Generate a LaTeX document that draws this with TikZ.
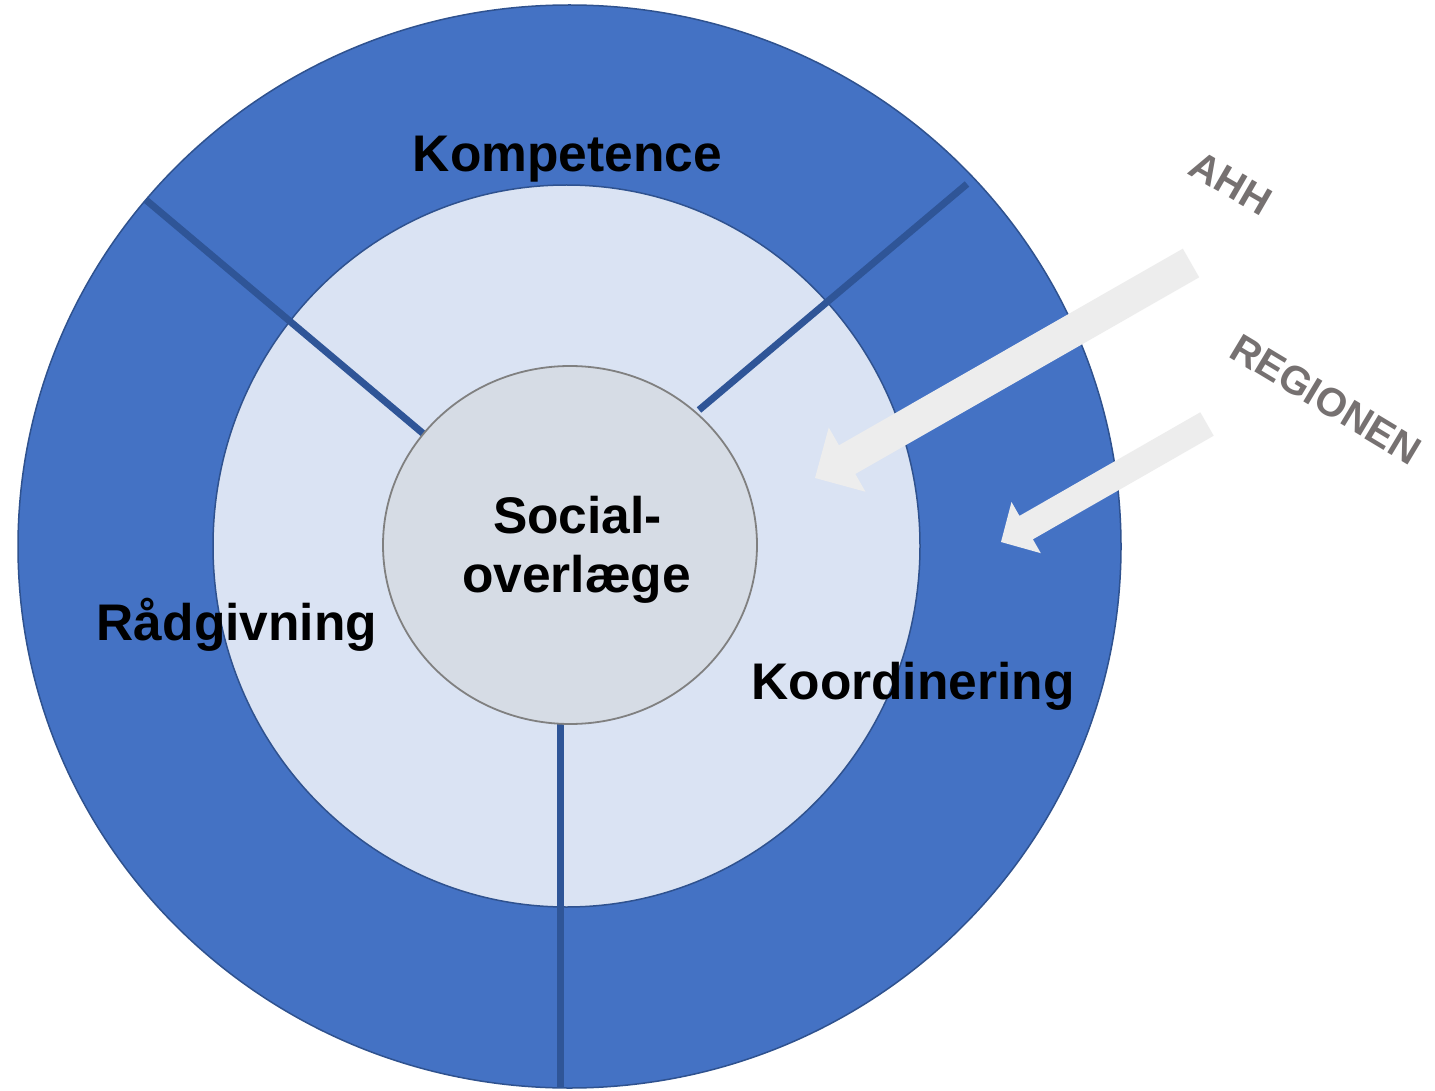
\documentclass[tikz,border=0pt]{standalone}
\usepackage{fontspec}
\setmainfont{Liberation Sans}
\usetikzlibrary{calc}
\definecolor{ringblue}{HTML}{4472C4}
\definecolor{ringedge}{HTML}{2F528F}
\definecolor{midfill}{HTML}{DAE3F3}
\definecolor{corefill}{HTML}{D6DCE5}
\definecolor{coreedge}{HTML}{808080}
\definecolor{spoke}{HTML}{2F5597}
\definecolor{arrowfill}{HTML}{EDEDED}
\definecolor{labelgrey}{HTML}{767171}
\begin{document}
\begin{tikzpicture}[x=1pt,y=-1pt,
  bigtext/.style={font=\fontsize{51.5}{58}\selectfont\bfseries, text=black, inner sep=0pt, anchor=base},
  sidetext/.style={font=\fontsize{40}{46}\selectfont\bfseries, text=labelgrey, inner sep=0pt, anchor=base},
  spokeline/.style={draw=spoke, line width=7pt},
  blockarrow/.style={fill=arrowfill, draw=none}]
\useasboundingbox (0,0) rectangle (1435,1091);
\fill[white] (0,0) rectangle (1435,1091);
% rings
\draw[ringedge, line width=1.5pt, fill=ringblue] (569.5,546.5) ellipse [x radius=551.5, y radius=541.5];
\draw[ringedge, line width=1.5pt, fill=midfill] (566.5,546) ellipse [x radius=353.5, y radius=361];
% spokes
\coordinate (s1a) at (146,200);
\coordinate (s1b) at (432,441);
\coordinate (s2a) at (967,184);
\coordinate (s2b) at (699,410);
\coordinate (s3a) at (560,724);
\coordinate (s3b) at (560,1088);
\draw[spokeline] (s1a) -- (s1b);
\draw[spokeline] (s2a) -- (s2b);
\draw[spokeline] (s3a) -- (s3b);
% core
\draw[coreedge, line width=1.8pt, fill=corefill] (570,545) ellipse [x radius=187, y radius=179];
% arrows
\coordinate (t1) at (1191,263);
\coordinate (p1) at (815,478);
\coordinate (b1) at ($(p1)!37pt!(t1)$);
\fill[blockarrow] ($(t1)!16.5pt!90:(p1)$) -- ($(b1)!16.5pt!90:(p1)$) -- ($(b1)!37pt!90:(p1)$) -- (p1)
  -- ($(b1)!37pt!-90:(p1)$) -- ($(b1)!16.5pt!-90:(p1)$) -- ($(t1)!16.5pt!-90:(p1)$) -- cycle;
\coordinate (t2) at (1207,424);
\coordinate (p2) at (1001,542);
\coordinate (b2) at ($(p2)!29pt!(t2)$);
\fill[blockarrow] ($(t2)!13.5pt!90:(p2)$) -- ($(b2)!13.5pt!90:(p2)$) -- ($(b2)!29.5pt!90:(p2)$) -- (p2)
  -- ($(b2)!29.5pt!-90:(p2)$) -- ($(b2)!13.5pt!-90:(p2)$) -- ($(t2)!13.5pt!-90:(p2)$) -- cycle;
% labels
\node[bigtext] (komp) at (567.5,172) {Kompetence};
\node[bigtext] (soc1) at (577.5,533) {Social-};
\node[bigtext] (soc2) at (576.5,592) {overlæge};
\node[bigtext] (raad) at (237,640) {Rådgivning};
\node[bigtext] (koord) at (913,699) {Koordinering};
\node[sidetext, rotate=-30] (ahh) at (1224,195) {AHH};
\node[sidetext, rotate=-31] (reg) at (1319,411) {REGIONEN};
\end{tikzpicture}
\end{document}
